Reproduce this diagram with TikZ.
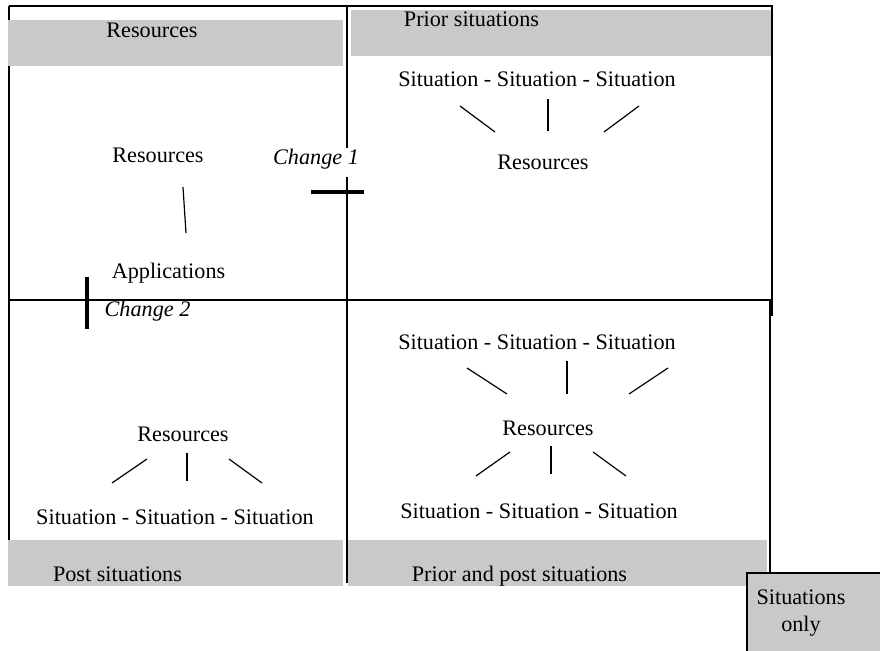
\documentclass[tikz,border=0pt]{standalone}
\usepackage{fontspec}
\setmainfont{Liberation Serif}
\usepackage{tikz}
\usetikzlibrary{positioning}

\definecolor{bandgray}{RGB}{200,201,203}
\newcommand{\diafont}{\fontsize{11.1}{13.5}\selectfont}

\begin{document}
\begin{tikzpicture}[
  x=0.5pt, y=-0.5pt,
  font=\diafont,
  frame/.style={line width=0.7pt},
  band/.style={fill=bandgray},
  lbl/.style={anchor=base, inner sep=0pt, font=\diafont},
  chg/.style={lbl, font=\diafont\itshape},
  spoke/.style={line width=0.6pt},
  cut/.style={line width=2pt},
]
  \useasboundingbox (0,0) rectangle (880,651);

  % quadrant frame
  \draw[frame] (9,6) -- (772,6) -- (772,316);
  \draw[frame] (770,300) -- (770,573);
  \draw[frame] (9,6) -- (9,586);
  \draw[frame] (9,300) -- (772,300);
  \draw[frame] (347,6) -- (347,148);
  \draw[frame] (347,177) -- (347,583);

  % grey header / footer bands
  \fill[band] (8,20) rectangle (343,66);
  \fill[band] (351,10) rectangle (770.5,56);
  \fill[band] (8,540) rectangle (343,586);
  \fill[band] (348,540) rectangle (767,586);
  \draw[frame, fill=bandgray] (747,573) rectangle (890,660);

  \node[lbl] (hres)   at (152,38)  {Resources};
  \node[lbl] (hprior) at (471.5,27) {Prior situations};
  \node[lbl] (hpost)  at (117.5,582) {Post situations};
  \node[lbl] (hboth)  at (519.5,582) {Prior and post situations};
  \node[lbl] (only1)  at (801,605) {Situations};
  \node[lbl] (only2)  at (801,632) {only};

  % top left
  \node[lbl] (res1) at (158,163) {Resources};
  \node[lbl] (app1) at (168.5,279) {Applications};
  \draw[spoke] (183,187) -- (186,233);

  % changes
  \node[chg] (chg1) at (316,165) {Change 1};
  \draw[cut] (311,192) -- (364,192);
  \node[chg] (chg2) at (147.5,317) {Change 2};
  \draw[cut] (87,277) -- (87,329);

  % top right
  \node[lbl] (sit2) at (537,87)  {Situation - Situation - Situation};
  \node[lbl] (res2) at (543,170) {Resources};

  % bottom left
  \node[lbl] (res3) at (183,442) {Resources};
  \node[lbl] (sit3) at (175,525) {Situation - Situation - Situation};

  % bottom right
  \node[lbl] (sit4a) at (537,350) {Situation - Situation - Situation};
  \node[lbl] (res4)  at (548,436) {Resources};
  \node[lbl] (sit4b) at (539,519) {Situation - Situation - Situation};

  \foreach \xa/\ya/\xb/\yb in {460/106/495/132, 548/99/548/131, 639/106/604/132,
      147/459/112/483, 187/453/187/481, 229/459/262/483,
      467/368/507/394, 567/361/567/394, 668/368/629/394,
      510/452/476/476, 551/446/551/474, 593/452/626/476}
    \draw[spoke] (\xa,\ya) -- (\xb,\yb);
\end{tikzpicture}
\end{document}
